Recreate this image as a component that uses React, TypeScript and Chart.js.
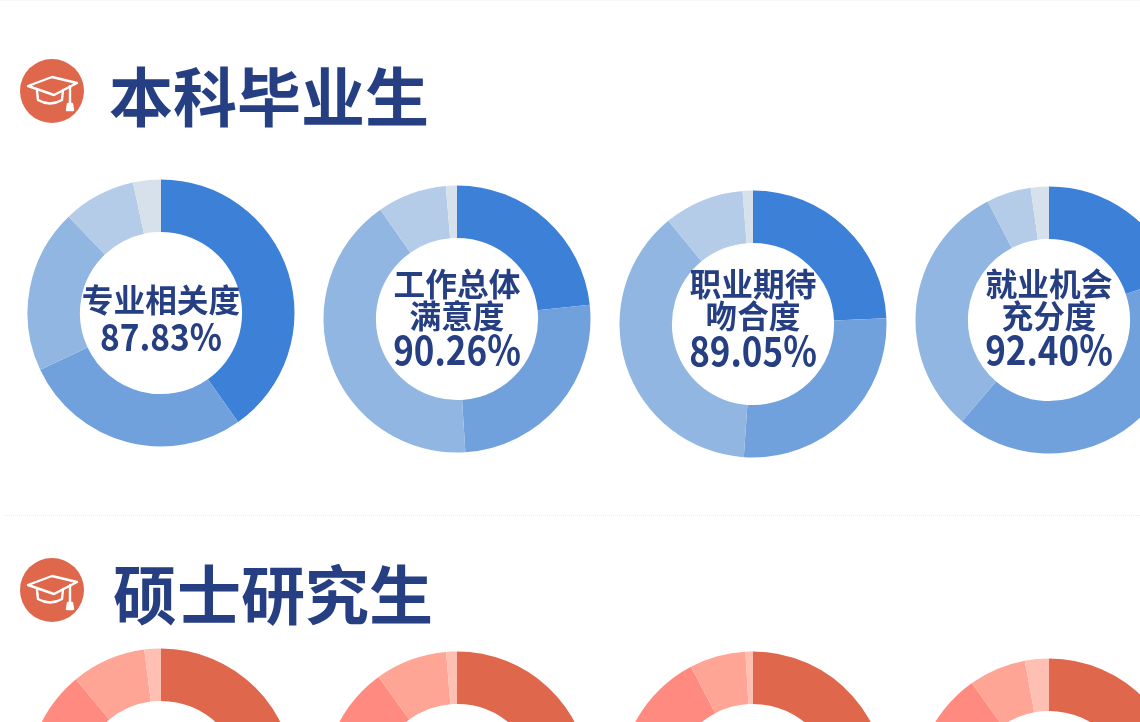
import React, { useEffect, useRef } from "react";
import { Chart, registerables } from "chart.js";

Chart.register(...registerables);

const segmentNames = ["很满意", "满意", "基本满意", "不满意", "很不满意"];

const bachelorTitle = "本科毕业生";
const masterTitle = "硕士研究生";

const bachelorLabels = [["专业相关度"], ["工作总体", "满意度"], ["职业期待", "吻合度"], ["就业机会", "充分度"]];
const masterLabels: string[][] = [[], [], [], []];

const bachelorRates = ["87.83%", "90.26%", "89.05%", "92.40%"];
const masterRates = ["", "", "", ""];

const bachelorA = [40.2, 27.8, 19.83, 8.8, 3.37];
const bachelorB = [23.3, 25.7, 41.26, 8.4, 1.34];
const bachelorC = [24.3, 26.8, 37.95, 9.7, 1.25];
const bachelorD = [19.8, 41.5, 31.1, 5.4, 2.2];

const masterA = [25, 27, 37, 9, 2];
const masterB = [24, 26, 40, 8.7, 1.3];
const masterC = [27, 28, 37.3, 6.8, 0.9];
const masterD = [26, 27, 37.2, 6.9, 2.9];

const blues = ["#3D80D8", "#71A1DC", "#90B6E1", "#B4CCE7", "#D6E1EC"];
const reds = ["#DE674C", "#F0786A", "#FF8A80", "#FFA596", "#FFBFB3"];

const NAVY = "#253F82";
const FONT = '"Noto Sans CJK SC", "Noto Sans", sans-serif';
const RADIUS = 133.5;
const CUTOUT = 82;

function Donut({ cx, cy, values, colors, lines, rate, textTop, rateSize = 40, rateScale = 0.875, rateGap = 0 }: { cx: number; cy: number; values: number[]; colors: string[]; lines: string[]; rate: string; textTop?: number; rateSize?: number; rateScale?: number; rateGap?: number }) {
  const ref = useRef<HTMLCanvasElement>(null);
  useEffect(() => {
    const chart = new Chart(ref.current!, {
      type: "doughnut",
      data: {
        labels: segmentNames,
        datasets: [{ data: values, backgroundColor: colors, borderWidth: 0, hoverOffset: 0 }],
      },
      options: {
        responsive: false,
        animation: false,
        radius: RADIUS,
        cutout: CUTOUT,
        layout: { padding: 0 },
        plugins: { legend: { display: false }, tooltip: { enabled: false } },
      },
    });
    return () => chart.destroy();
  }, []);
  const size = 270;
  return (
    <div style={{ position: "absolute", left: cx - size / 2, top: cy - size / 2, width: size, height: size }}>
      <canvas ref={ref} width={size} height={size} style={{ display: "block", width: size, height: size }} />
      {rate && (
        <div
          style={{
            position: "absolute",
            left: 0,
            right: 0,
            top: textTop,
            textAlign: "center",
            color: NAVY,
            fontFamily: FONT,
            whiteSpace: "nowrap",
          }}
        >
          {lines.map((l) => (
            <div key={l} style={{ fontSize: 32, lineHeight: "32px", fontWeight: 700, transform: "scaleX(0.99)" }}>
              {l}
            </div>
          ))}
          <div style={{ fontSize: rateSize, lineHeight: "36px", fontWeight: 700, marginTop: rateGap, transform: `scaleX(${rateScale})` }}>{rate}</div>
        </div>
      )}
    </div>
  );
}

function Hat({ cx, cy }: { cx: number; cy: number }) {
  return (
    <svg width={64} height={64} viewBox="0 0 64 64" style={{ position: "absolute", left: cx - 32, top: cy - 32 }}>
      <circle cx={32} cy={32} r={32} fill="#DE674C" />
      <g fill="none" stroke="#FFF" strokeWidth={2.4} strokeLinejoin="round" strokeLinecap="round">
        <path d="M8 27 L32 18 L57 24 L34 36 Z" />
        <path d="M17 32 L18 41 Q30 48 42 41 L43 31" />
        <path d="M50 27 L50 44" />
        <path d="M47 51 L48 45 L52 45 L53 51 Z" fill="#FFF" />
      </g>
    </svg>
  );
}

function Title({ left, top, text }: { left: number; top: number; text: string }) {
  return (
    <div
      style={{
        position: "absolute",
        left,
        top,
        fontFamily: FONT,
        fontWeight: 700,
        fontSize: 64,
        lineHeight: "70px",
        color: NAVY,
        whiteSpace: "nowrap",
      }}
    >
      {text}
    </div>
  );
}

export default function App() {
  useEffect(() => {
    document.body.style.margin = "0";
    document.body.style.background = "#fff";
  }, []);
  return (
    <div style={{ position: "relative", width: 1140, height: 722, overflow: "hidden", background: "#fff", filter: "blur(0.5px)" }}>
      <div style={{ position: "absolute", left: 0, right: 0, top: 0, borderTop: "1px solid #F7F7F7" }} />
      <Hat cx={52} cy={91} />
      <Title left={109} top={58} text={bachelorTitle} />
      <Donut cx={161} cy={313} values={bachelorA} colors={blues} lines={bachelorLabels[0]} rate={bachelorRates[0]} textTop={104} rateSize={38} rateScale={0.88} rateGap={3} />
      <Donut cx={457} cy={319} values={bachelorB} colors={blues} lines={bachelorLabels[1]} rate={bachelorRates[1]} textTop={82} />
      <Donut cx={753} cy={324} values={bachelorC} colors={blues} lines={bachelorLabels[2]} rate={bachelorRates[2]} textTop={77} rateGap={1} />
      <Donut cx={1049} cy={320} values={bachelorD} colors={blues} lines={bachelorLabels[3]} rate={bachelorRates[3]} textTop={81} />
      <div style={{ position: "absolute", left: 5, right: 0, top: 515, borderTop: "1px dotted #F3E9E4" }} />
      <Hat cx={52} cy={590} />
      <Title left={113} top={556} text={masterTitle} />
      <Donut cx={161} cy={782} values={masterA} colors={reds} lines={masterLabels[0]} rate={masterRates[0]} />
      <Donut cx={457} cy={785} values={masterB} colors={reds} lines={masterLabels[1]} rate={masterRates[1]} />
      <Donut cx={753} cy={785} values={masterC} colors={reds} lines={masterLabels[2]} rate={masterRates[2]} />
      <Donut cx={1049} cy={792} values={masterD} colors={reds} lines={masterLabels[3]} rate={masterRates[3]} />
    </div>
  );
}
